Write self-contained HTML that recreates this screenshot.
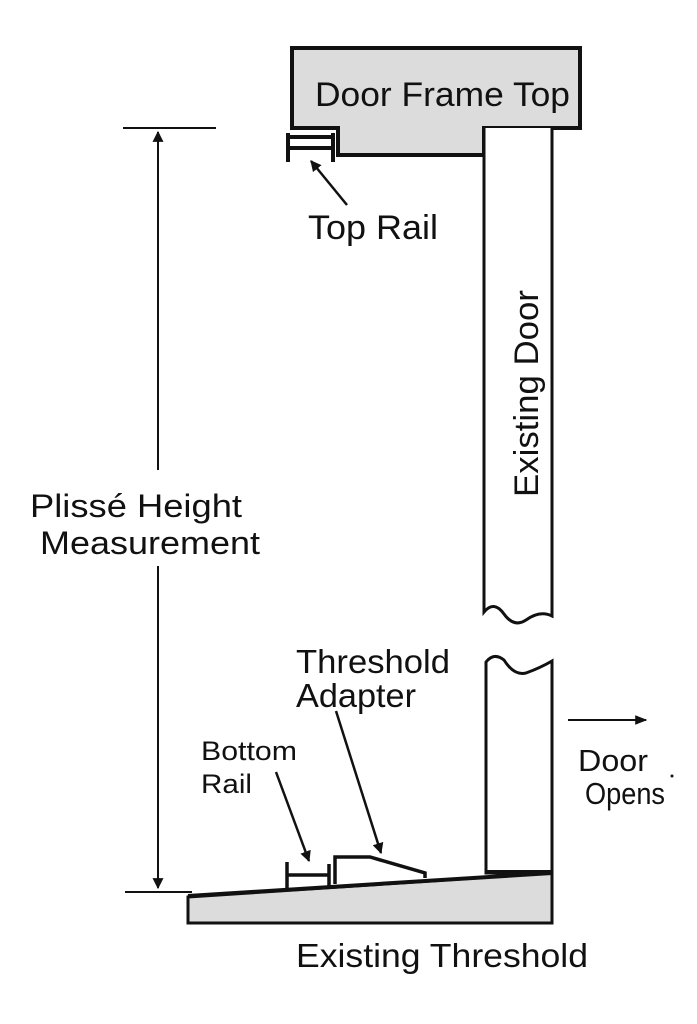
<!DOCTYPE html>
<html><head><style>html,body{margin:0;padding:0;background:#fff}svg{display:block}</style></head>
<body>
<svg width="697" height="1024" viewBox="0 0 697 1024" xmlns="http://www.w3.org/2000/svg" font-family="Liberation Sans, Arial, sans-serif" fill="#111">
<defs>
<marker id="ah" viewBox="0 0 10 10" refX="9" refY="5" markerWidth="11" markerHeight="11" markerUnits="userSpaceOnUse" orient="auto"><path d="M0,0 L10,5 L0,10 z" fill="#111"/></marker>
<marker id="ah2" viewBox="0 0 10 10" refX="9" refY="5" markerWidth="12" markerHeight="12" markerUnits="userSpaceOnUse" orient="auto"><path d="M0,1 L10,5 L0,9 z" fill="#111"/></marker>
</defs>
<path d="M292,48 L580,48 L580,128 L484,128 L484,155 L338,155 L338,128 L292,128 Z" fill="#dcdcdc" stroke="#111" stroke-width="4"/>
<text x="315" y="106" font-size="34" textLength="255" lengthAdjust="spacingAndGlyphs">Door Frame Top</text>
<g stroke="#111" stroke-width="4" fill="none">
<path d="M288,133 L288,162 M333,133 L333,162 M288,137 L333,137 M288,148 L333,148"/>
</g>
<line x1="347" y1="205" x2="311" y2="161" stroke="#111" stroke-width="2.5" marker-end="url(#ah)"/>
<text x="308" y="239" font-size="34" textLength="130" lengthAdjust="spacingAndGlyphs">Top Rail</text>
<path d="M484,128 L484,612 Q494,600 504,614 Q514,628 526,620 Q540,610 552,616 L552,128" fill="#fff" stroke="#111" stroke-width="3"/>
<path d="M486,662 Q494,652 504,660 Q514,676 526,673 Q540,668 552,661 L552,873 L486,873 Z" fill="#fff" stroke="#111" stroke-width="3"/>
<text transform="translate(538,497) rotate(-90)" font-size="34" textLength="207" lengthAdjust="spacingAndGlyphs">Existing Door</text>
<g stroke="#111" stroke-width="2">
<line x1="123" y1="128" x2="216" y2="128"/>
<line x1="125" y1="892" x2="192" y2="892"/>
<line x1="158" y1="470" x2="158" y2="132" marker-end="url(#ah)"/>
<line x1="158" y1="566" x2="158" y2="888" marker-end="url(#ah)"/>
</g>
<text x="30" y="517" font-size="32" textLength="212" lengthAdjust="spacingAndGlyphs">Plissé Height</text>
<text x="40" y="554" font-size="32" textLength="220" lengthAdjust="spacingAndGlyphs">Measurement</text>
<path d="M188,897 L552,873 L552,923 L188,923 Z" fill="#dcdcdc" stroke="#111" stroke-width="3"/>
<line x1="188" y1="896" x2="552" y2="873" stroke="#111" stroke-width="4"/>
<line x1="486" y1="872" x2="552" y2="872" stroke="#111" stroke-width="4"/>
<path d="M287,862 L287,888 M329,864 L329,886 M287,875 L329,875" stroke="#111" stroke-width="3.5" fill="none"/>
<path d="M335,884 L335,857 L370,857 L425,873 L425,878" stroke="#111" stroke-width="3.5" fill="#fff"/>
<line x1="276" y1="772" x2="309" y2="861" stroke="#111" stroke-width="2.5" marker-end="url(#ah)"/>
<line x1="336" y1="711" x2="381" y2="853" stroke="#111" stroke-width="2.5" marker-end="url(#ah)"/>
<text x="296" y="673" font-size="33" textLength="154" lengthAdjust="spacingAndGlyphs">Threshold</text>
<text x="296" y="707" font-size="33" textLength="120" lengthAdjust="spacingAndGlyphs">Adapter</text>
<text x="201" y="760" font-size="27" textLength="96" lengthAdjust="spacingAndGlyphs">Bottom</text>
<text x="201" y="793" font-size="27" textLength="51" lengthAdjust="spacingAndGlyphs">Rail</text>
<line x1="568" y1="720" x2="646" y2="720" stroke="#111" stroke-width="2" marker-end="url(#ah2)"/>
<text x="578" y="771" font-size="31" textLength="70" lengthAdjust="spacingAndGlyphs">Door</text>
<circle cx="672" cy="776" r="1.5"/>
<text x="585" y="804" font-size="31" textLength="80" lengthAdjust="spacingAndGlyphs">Opens</text>
<text x="296" y="967" font-size="33" textLength="292" lengthAdjust="spacingAndGlyphs">Existing Threshold</text>
</svg>
</body></html>
